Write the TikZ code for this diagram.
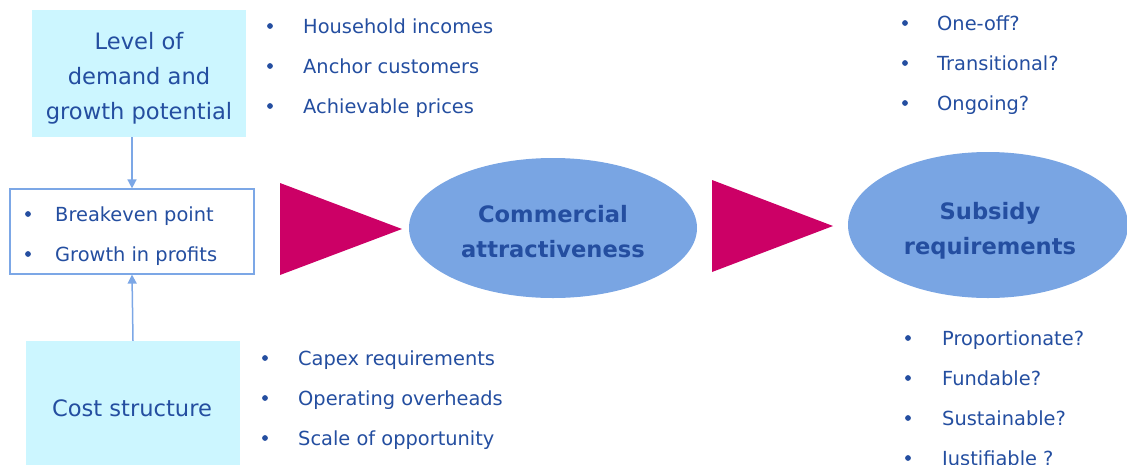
\documentclass[tikz,border=0pt]{standalone}
\usepackage{fontspec}
\setmainfont{DejaVu Sans}
\usetikzlibrary{shapes.geometric,arrows.meta}
\definecolor{txtblue}{RGB}{36,78,160}
\definecolor{cyanbox}{RGB}{204,246,255}
\definecolor{ellblue}{RGB}{121,165,227}
\definecolor{lineblue}{RGB}{124,167,230}
\definecolor{magent}{RGB}{204,0,102}
\tikzset{
  txt/.style={font=\fontsize{19.4}{35}\selectfont, text=txtblue, inner sep=0pt},
  btxt/.style={txt, anchor=base west},
  cyanrect/.style={fill=cyanbox, draw=none, inner sep=0pt},
  bigtxt/.style={text=txtblue, inner sep=0pt, font=\fontsize{22.6}{35}\selectfont, align=center},
  ell/.style={ellipse, fill=ellblue, draw=none, inner sep=0pt},
  elltxt/.style={bigtxt, font=\fontsize{22.6}{35}\selectfont\bfseries},
  arr/.style={draw=lineblue, line width=1.5pt, -{Triangle[width=9pt,length=9pt]}},
  dot/.style={circle, fill=txtblue, inner sep=0pt, minimum size=5.8pt},
}
\begin{document}
\begin{tikzpicture}[x=1pt,y=-1pt]
\useasboundingbox (0,0) rectangle (1127,464);
\clip (0,0) rectangle (1127,464);
% top cyan box
\node[cyanrect, minimum width=214pt, minimum height=127pt] (lvl) at (139,73.5) {};
\node[bigtxt] (lvlt) at (139,78.5) {Level of\\demand and\\growth potential};
% white box
\node[draw=lineblue, line width=1.2pt, fill=white, minimum width=244pt, minimum height=85pt, inner sep=0pt] (wb) at (132,231.5) {};
% bottom cyan box
\node[cyanrect, minimum width=214pt, minimum height=134pt] (cost) at (133,408) {};
\node[bigtxt] (costt) at (132,408) {Cost structure};
% arrows
\draw[arr] (lvl.south -| wb.north) -- (wb.north);
\draw[arr] (cost.north) -- (wb.south);
% bullets top-left
\node[dot] (b1) at (270,26) {}; \node[btxt] (t1) at (303,33) {Household incomes};
\node[dot] (b2) at (270,66) {}; \node[btxt] (t2) at (303,73) {Anchor customers};
\node[dot] (b3) at (270,106) {}; \node[btxt] (t3) at (303,113) {Achievable prices};
% white box bullets
\node[dot] (b4) at (28,214) {}; \node[btxt] (t4) at (55,221) {Breakeven point};
\node[dot] (b5) at (28,254) {}; \node[btxt] (t5) at (55,261) {Growth in profits};
% bottom bullets
\node[dot] (b6) at (265,358) {}; \node[btxt] (t6) at (298,365) {Capex requirements};
\node[dot] (b7) at (265,398) {}; \node[btxt] (t7) at (298,405) {Operating overheads};
\node[dot] (b8) at (265,438) {}; \node[btxt] (t8) at (298,445) {Scale of opportunity};
% triangles
\fill[magent] (280,183) -- (280,275) -- (402,229) -- cycle;
\fill[magent] (712,180) -- (712,272) -- (833,226) -- cycle;
% ellipses
\node[ell, minimum width=288pt, minimum height=140pt] (com) at (553,228) {};
\node[elltxt] (comt) at (553,231.5) {Commercial\\attractiveness};
\node[ell, minimum width=280pt, minimum height=146pt] (sub) at (988,225) {};
\node[elltxt] (subt) at (990,230.5) {Subsidy\\requirements};
% top right bullets
\node[dot] (b9) at (905,23) {}; \node[btxt] (t9) at (937,30) {One-off?};
\node[dot] (b10) at (905,63) {}; \node[btxt] (t10) at (937,70) {Transitional?};
\node[dot] (b11) at (905,103) {}; \node[btxt] (t11) at (937,110) {Ongoing?};
% bottom right bullets
\node[dot] (b12) at (908,338) {}; \node[btxt] (t12) at (942,345) {Proportionate?};
\node[dot] (b13) at (908,378) {}; \node[btxt] (t13) at (942,385) {Fundable?};
\node[dot] (b14) at (908,418) {}; \node[btxt] (t14) at (942,425) {Sustainable?};
\node[dot] (b15) at (908,458) {}; \node[btxt] (t15) at (942,465) {Justifiable ?};
\end{tikzpicture}
\end{document}
